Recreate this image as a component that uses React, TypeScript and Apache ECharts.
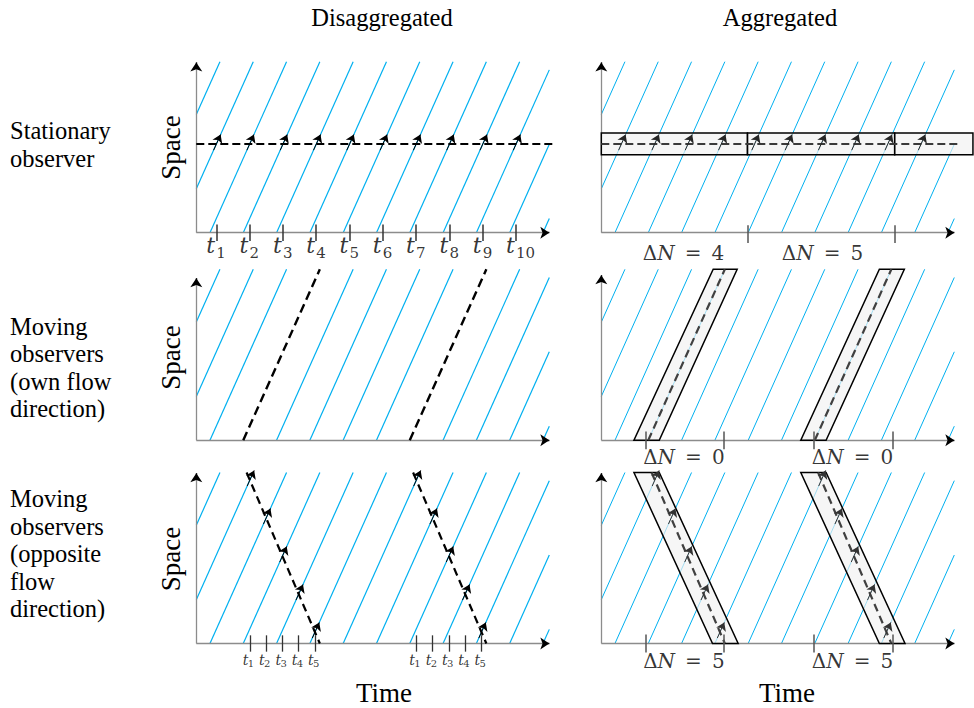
import React, { useEffect, useRef } from "react";
import * as echarts from "echarts";

// ---- data (time in headway units, space in road units; vehicles travel 1 space unit per time unit)
const TIME_MAX = 10.6;
const SPACE_MAX = 2.3;
const vehicleStarts = [-1.59, -0.59, 0.41, 1.41, 2.41, 3.41, 4.41, 5.41, 6.41, 7.41, 8.41, 9.41, 10.41];
const stationaryPosition = 1.19;
const stationaryLineEnd = 10.71;
const stationaryBand = [1.05, 1.34];
const aggregationBounds = [0, 4.39, 8.81, 11.16];
const aggregationCounts = [4, 5];
const aggregationLabelTimes = [2.47, 6.64];
const ownObserverStarts = [1.41, 6.41];
const ownBoxBottom = [[0.98, 1.74], [5.99, 6.75]];
const ownBoxTop = [[3.36, 4.08], [8.35, 9.1]];
const ownTicks = [1.32, 3.68, 6.37, 8.74];
const ownCounts = [0, 0];
const oppObserverTop = [1.51, 6.51];
const oppObserverBottom = [3.71, 8.71];
const oppBoxTop = [[0.98, 1.74], [5.99, 6.75]];
const oppBoxBottom = [[3.34, 4.11], [8.35, 9.12]];
const oppTicks = [1.32, 3.68, 6.37, 8.74];
const oppCounts = [5, 5];
const movingLabelTimes = [2.48, 7.54];

// ---- layout
const PANELS = [
  { left: 196.3, top: 61.7, axisTop: 2.29 },
  { left: 601.3, top: 61.7, axisTop: 2.29 },
  { left: 196.3, top: 269.3, axisTop: 2.18 },
  { left: 601.3, top: 269.3, axisTop: 2.22 },
  { left: 196.3, top: 472.5, axisTop: 2.29 },
  { left: 601.3, top: 472.5, axisTop: 2.29 },
];
const PW = 353;
const PH = 171;
const BLUE = "#00B0F0";
const SERIF = "Liberation Serif";
const MATH = "DejaVu Serif";

const seg = (a: number[], b: number[]) => ({ coords: [a, b] });

function L(i: number, data: any[], lineStyle: any, extra: any = {}) {
  return {
    type: "lines",
    coordinateSystem: "cartesian2d",
    xAxisIndex: i,
    yAxisIndex: i,
    polyline: false,
    silent: true,
    clip: false,
    symbol: "none",
    data,
    lineStyle: { opacity: 1, ...lineStyle },
    ...extra,
  };
}

function vehicleSegs(skip: number[] = []) {
  const out: any[] = [];
  for (const x0 of vehicleStarts) {
    if (skip.includes(x0)) continue;
    let t0 = x0, y0 = 0, t1 = x0 + SPACE_MAX, y1 = SPACE_MAX;
    if (t0 < 0) { y0 = -x0; t0 = 0; }
    if (t1 > TIME_MAX) { y1 = TIME_MAX - x0; t1 = TIME_MAX; }
    if (y1 > y0) out.push(seg([t0, y0], [t1, y1]));
  }
  return out;
}

const arrowAt = (x0: number, y: number) => seg([x0 + y - 0.08, y - 0.08], [x0 + y + 0.13, y + 0.13]);

const stationaryCross = vehicleStarts.filter(
  (x0) => x0 + stationaryPosition >= 0 && x0 + stationaryPosition < 10.2
);
const stationaryTicks = stationaryCross.map((x0) => x0 + stationaryPosition);

function oppCrossings(top: number, bottom: number) {
  const k = (bottom - top) / SPACE_MAX;
  return vehicleStarts
    .map((x0) => ({ x0, y: (bottom - x0) / (1 + k) }))
    .filter((c) => c.y >= 0 && c.y <= SPACE_MAX);
}
const oppCross = oppObserverTop.map((t, g) => oppCrossings(t, oppObserverBottom[g]));

function axesSeries(i: number) {
  const p = PANELS[i];
  return [
    L(i, [seg([0, 0], [TIME_MAX, 0]), seg([0, 0], [0, p.axisTop])], { color: "#8c8c8c", width: 1.3 }),
    L(
      i,
      [seg([TIME_MAX - 0.15, 0], [TIME_MAX, 0]), seg([0, p.axisTop - 0.06], [0, p.axisTop])],
      { color: "#000", width: 1.3 },
      { symbol: ["none", "arrow"], symbolSize: 9 }
    ),
  ];
}

function boxSeries(i: number, polys: number[][]) {
  return {
    type: "custom",
    coordinateSystem: "cartesian2d",
    xAxisIndex: i,
    yAxisIndex: i,
    silent: true,
    clip: false,
    data: polys,
    renderItem: (_params: any, api: any) => {
      const pts = [0, 1, 2, 3].map((k) => api.coord([api.value(2 * k), api.value(2 * k + 1)]));
      return {
        type: "polygon",
        shape: { points: pts },
        style: { fill: "rgba(242,242,242,0.68)", stroke: "#000", lineWidth: 1.5 },
      };
    },
  };
}

function labelSeries(i: number, pts: number[][], texts: string[], label: any) {
  return {
    type: "scatter",
    xAxisIndex: i,
    yAxisIndex: i,
    silent: true,
    clip: false,
    symbolSize: 2,
    itemStyle: { color: "rgba(0,0,0,0)" },
    label: { show: true, color: "#000", ...label },
    data: pts.map((p, k) => ({ value: p, label: { formatter: texts[k] } })),
  };
}

const deltaRich = {
  d: { fontFamily: MATH, fontSize: 20, color: "#000" },
  n: { fontFamily: MATH, fontSize: 20, fontStyle: "italic", color: "#000" },
};
const deltaText = (n: number) => `{d|Δ}{n|N}{d|\u2002=\u2002${n}}`;

function buildOption() {
  const series: any[] = [];

  // Panel 0: stationary, disaggregated
  series.push(L(0, vehicleSegs(), { color: BLUE, width: 1.2 }));
  series.push(...axesSeries(0));
  series.push(
    L(0, [seg([0, stationaryPosition], [stationaryLineEnd, stationaryPosition])], {
      color: "#000", width: 2.2, type: [8, 4],
    })
  );
  series.push(
    L(0, stationaryCross.map((x0) => arrowAt(x0, stationaryPosition)), { color: "#000", width: 1 }, {
      symbol: ["none", "arrow"], symbolSize: 8,
    })
  );
  series.push(L(0, stationaryTicks.map((t) => seg([t, -0.11], [t, 0.11])), { color: "#333", width: 1.5 }));
  series.push(
    labelSeries(0, stationaryTicks.map((t) => [t, 0]), stationaryTicks.map(() => "t"), {
      position: [-9, 3], fontFamily: MATH, fontStyle: "italic", fontSize: 22,
    })
  );
  series.push(
    labelSeries(0, stationaryTicks.map((t) => [t, 0]), stationaryTicks.map((_, k) => String(k + 1)), {
      position: [1, 14], fontFamily: MATH, fontSize: 15,
    })
  );

  // Panel 1: stationary, aggregated
  series.push(L(1, vehicleSegs(), { color: BLUE, width: 1 }));
  series.push(...axesSeries(1));
  const bandPolys = aggregationBounds.slice(0, -1).map((a, k) => {
    const b = aggregationBounds[k + 1];
    return [a, stationaryBand[0], b, stationaryBand[0], b, stationaryBand[1], a, stationaryBand[1]];
  });
  series.push(boxSeries(1, bandPolys));
  series.push(
    L(1, [seg([0, stationaryPosition], [stationaryLineEnd, stationaryPosition])], {
      color: "#3a3a3a", width: 2.2, type: [8, 4],
    })
  );
  series.push(
    L(1, stationaryCross.map((x0) => arrowAt(x0, stationaryPosition)), { color: "#262626", width: 1 }, {
      symbol: ["none", "arrow"], symbolSize: 8,
    })
  );
  series.push(
    L(1, aggregationBounds.slice(1, -1).map((t) => seg([t, -0.14], [t, 0.1])), { color: "#555", width: 1.5 })
  );
  series.push(
    labelSeries(1, aggregationLabelTimes.map((t) => [t, 0]), aggregationCounts.map(deltaText), {
      position: [1, 21], align: "center", verticalAlign: "middle", fontFamily: MATH, fontSize: 20, rich: deltaRich,
    })
  );

  // Panel 2: own direction, disaggregated
  series.push(L(2, vehicleSegs(ownObserverStarts), { color: BLUE, width: 1.2 }));
  series.push(...axesSeries(2));
  series.push(
    L(2, ownObserverStarts.map((t) => seg([t, 0], [t + SPACE_MAX, SPACE_MAX])), {
      color: "#000", width: 2.4, type: [9, 5],
    })
  );

  // Panel 3: own direction, aggregated
  series.push(L(3, vehicleSegs(), { color: BLUE, width: 1 }));
  series.push(...axesSeries(3));
  series.push(
    boxSeries(
      3,
      ownBoxBottom.map((b, g) => [b[0], 0, b[1], 0, ownBoxTop[g][1], SPACE_MAX, ownBoxTop[g][0], SPACE_MAX])
    )
  );
  series.push(
    L(3, ownObserverStarts.map((t) => seg([t, 0], [t + SPACE_MAX, SPACE_MAX])), {
      color: "#404040", width: 2.2, type: [8, 5],
    })
  );
  series.push(L(3, ownTicks.map((t) => seg([t, -0.12], [t, 0.12])), { color: "#555", width: 1.5 }));
  series.push(
    labelSeries(3, movingLabelTimes.map((t) => [t, 0]), ownCounts.map(deltaText), {
      position: [1, 17.5], align: "center", verticalAlign: "middle", fontFamily: MATH, fontSize: 20, rich: deltaRich,
    })
  );

  // Panel 4: opposite direction, disaggregated
  series.push(L(4, vehicleSegs(), { color: BLUE, width: 1.2 }));
  series.push(...axesSeries(4));
  series.push(
    L(4, oppObserverTop.map((t, g) => seg([t, SPACE_MAX], [oppObserverBottom[g], 0])), {
      color: "#000", width: 2.2, type: [8, 5],
    })
  );
  const oppArrows = oppCross.flat().map((c) => arrowAt(c.x0, c.y));
  series.push(L(4, oppArrows, { color: "#000", width: 1 }, { symbol: ["none", "arrow"], symbolSize: 8 }));
  const oppTimesSorted = oppCross.map((g) => g.map((c) => c.x0 + c.y).sort((a, b) => a - b));
  series.push(
    L(4, oppTimesSorted.flat().map((t) => seg([t, -0.11], [t, 0.11])), { color: "#333", width: 1.3 })
  );
  series.push(
    labelSeries(4, oppTimesSorted.flat().map((t) => [t, 0]), oppTimesSorted.flat().map(() => "t"), {
      position: [-6, 10], fontFamily: MATH, fontStyle: "italic", fontSize: 14,
    })
  );
  series.push(
    labelSeries(
      4,
      oppTimesSorted.flat().map((t) => [t, 0]),
      oppTimesSorted.map((g) => g.map((_, k) => String(k + 1))).flat(),
      { position: [-1, 16], fontFamily: MATH, fontSize: 10 }
    )
  );

  // Panel 5: opposite direction, aggregated
  series.push(L(5, vehicleSegs(), { color: BLUE, width: 1 }));
  series.push(...axesSeries(5));
  series.push(
    boxSeries(
      5,
      oppBoxBottom.map((b, g) => [b[0], 0, b[1], 0, oppBoxTop[g][1], SPACE_MAX, oppBoxTop[g][0], SPACE_MAX])
    )
  );
  series.push(
    L(5, oppObserverTop.map((t, g) => seg([t, SPACE_MAX], [oppObserverBottom[g], 0])), {
      color: "#404040", width: 2.2, type: [8, 5],
    })
  );
  series.push(L(5, oppArrows, { color: "#333", width: 1 }, { symbol: ["none", "arrow"], symbolSize: 8 }));
  series.push(L(5, oppTicks.map((t) => seg([t, -0.12], [t, 0.12])), { color: "#555", width: 1.5 }));
  series.push(
    labelSeries(5, movingLabelTimes.map((t) => [t, 0]), oppCounts.map(deltaText), {
      position: [1, 18], align: "center", verticalAlign: "middle", fontFamily: MATH, fontSize: 20, rich: deltaRich,
    })
  );

  const txt = (text: string, x: number, y: number, size: number, align = "center", extra: any = {}) => ({
    type: "text",
    x,
    y,
    silent: true,
    ...extra,
    style: {
      text,
      fontFamily: SERIF,
      fontSize: size,
      fill: "#000",
      textAlign: align,
      align,
      textVerticalAlign: "middle",
      verticalAlign: "middle",
      lineHeight: 27.5,
    },
  });

  const graphic = [
    txt("Disaggregated", 382, 17, 24.5),
    txt("Aggregated", 780, 17, 24.5),
    txt("Stationary\nobserver", 10, 144.6, 24.5, "left"),
    txt("Moving\nobservers\n(own flow\ndirection)", 10, 367.6, 24.5, "left"),
    txt("Moving\nobservers\n(opposite\nflow\ndirection)", 10, 553.5, 24.5, "left"),
    txt("Space", 171, 147.5, 27, "center", { rotation: Math.PI / 2 }),
    txt("Space", 171, 357.5, 27, "center", { rotation: Math.PI / 2 }),
    txt("Space", 171, 559, 27, "center", { rotation: Math.PI / 2 }),
    txt("Time", 384, 693, 27),
    txt("Time", 787, 693, 27),
  ];

  return {
    animation: false,
    backgroundColor: "#fff",
    grid: PANELS.map((p) => ({ left: p.left, top: p.top, width: PW, height: PH, show: false, containLabel: false })),
    xAxis: PANELS.map((_, i) => ({ type: "value", gridIndex: i, min: 0, max: TIME_MAX, show: false })),
    yAxis: PANELS.map((_, i) => ({ type: "value", gridIndex: i, min: 0, max: SPACE_MAX, show: false })),
    series,
    graphic,
  };
}

export default function App() {
  const ref = useRef<HTMLDivElement>(null);
  useEffect(() => {
    if (!ref.current) return;
    const chart = echarts.init(ref.current, null, { renderer: "svg" });
    chart.setOption(buildOption() as any);
    return () => chart.dispose();
  }, []);
  return (
    <div
      ref={ref}
      style={{ position: "absolute", left: 0, top: 0, width: 974, height: 708, background: "#fff" }}
    />
  );
}
